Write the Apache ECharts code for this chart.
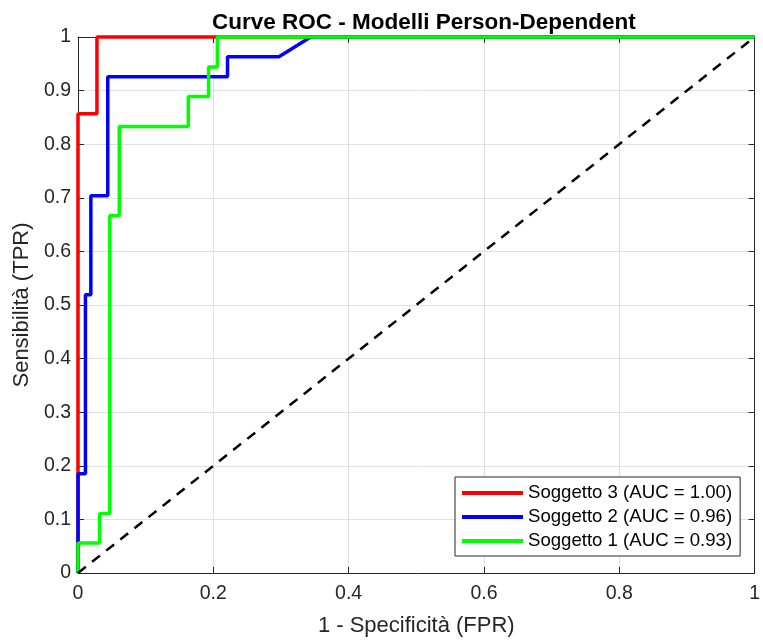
<!DOCTYPE html>
<html><head><meta charset="utf-8">
<script src="https://cdn.jsdelivr.net/npm/echarts@6/dist/echarts.min.js"></script>
<style>html,body{margin:0;padding:0;background:#fff}#c{width:763px;height:644px}</style>
</head><body><div id="c"></div>
<script>
const titleText = 'Curve ROC - Modelli Person-Dependent';
const xLabel = '1 - Specificità (FPR)';
const yLabel = 'Sensibilità (TPR)';
const seriesNames = ['Soggetto 3 (AUC = 1.00)', 'Soggetto 2 (AUC = 0.96)', 'Soggetto 1 (AUC = 0.93)'];
const s3FPR = [0, 0, 0.028, 0.028, 1];
const s3TPR = [0, 0.857, 0.857, 1, 1];
const s2FPR = [0, 0, 0.011, 0.011, 0.019, 0.019, 0.044, 0.044, 0.221, 0.221, 0.297, 0.344, 1];
const s2TPR = [0, 0.185, 0.185, 0.519, 0.519, 0.704, 0.704, 0.926, 0.926, 0.963, 0.963, 1, 1];
const s1FPR = [0, 0, 0.032, 0.032, 0.047, 0.047, 0.061, 0.061, 0.163, 0.163, 0.193, 0.193, 0.206, 0.206, 1];
const s1TPR = [0, 0.056, 0.056, 0.111, 0.111, 0.667, 0.667, 0.833, 0.833, 0.889, 0.889, 0.944, 0.944, 1, 1];
const diagX = [0, 1];
const diagY = [0, 1];

const zip = (a, b) => a.map((v, i) => [v, b[i]]);
const font = '"Liberation Sans", Arial, Helvetica, sans-serif';
const axisCol = '#262626';
const chart = echarts.init(document.getElementById('c'));
const baseAxis = {
  min: 0, max: 1,
  axisLine: {show: true, onZero: false, lineStyle: {color: axisCol, width: 1}},
  axisTick: {show: true, inside: true, length: 6, lineStyle: {color: axisCol}},
  splitLine: {show: true, lineStyle: {color: '#e0e0e0', width: 1}},
  axisLabel: {color: axisCol, fontSize: 19.5, fontFamily: font}
};
chart.setOption({
  animation: false,
  backgroundColor: '#fff',
  title: {text: titleText, left: 207, top: 6,
    textStyle: {fontSize: 22.5, fontWeight: 'bold', color: '#000', fontFamily: font}},
  grid: {left: 78, right: 5, top: 37, bottom: 71, containLabel: false},
  legend: {
    data: seriesNames, orient: 'vertical', left: 455, top: 477,
    icon: 'rect', itemWidth: 61, itemHeight: 4, itemGap: 4,
    backgroundColor: '#fff', borderColor: axisCol, borderWidth: 1,
    padding: [6, 8, 5, 7],
    textStyle: {fontSize: 18.6, lineHeight: 20, color: '#000', fontFamily: font}
  },
  xAxis: [
    Object.assign({}, baseAxis, {type: 'value', interval: 0.2, position: 'bottom',
      name: xLabel, nameLocation: 'middle', nameGap: 42,
      axisLabel: Object.assign({}, baseAxis.axisLabel, {margin: 11}),
      nameTextStyle: {fontSize: 22, color: axisCol, fontFamily: font}}),
    Object.assign({}, baseAxis, {type: 'value', interval: 0.2, position: 'top',
      axisLabel: {show: false}, splitLine: {show: false}})
  ],
  yAxis: [
    Object.assign({}, baseAxis, {type: 'value', interval: 0.1, position: 'left',
      name: yLabel, nameLocation: 'middle', nameGap: 44,
      nameTextStyle: {fontSize: 22, color: axisCol, fontFamily: font},
      axisLabel: Object.assign({}, baseAxis.axisLabel, {margin: 7})}),
    Object.assign({}, baseAxis, {type: 'value', interval: 0.1, position: 'right',
      axisLabel: {show: false}, splitLine: {show: false}})
  ],
  series: [
    {name: seriesNames[0], type: 'line', data: zip(s3FPR, s3TPR), showSymbol: false, symbol: 'none',
      lineStyle: {color: '#ff0000', width: 3.5}, itemStyle: {color: '#ff0000'}, clip: false},
    {name: seriesNames[1], type: 'line', data: zip(s2FPR, s2TPR), showSymbol: false, symbol: 'none',
      lineStyle: {color: '#0000ff', width: 3.5}, itemStyle: {color: '#0000ff'}, clip: false},
    {name: seriesNames[2], type: 'line', data: zip(s1FPR, s1TPR), showSymbol: false, symbol: 'none',
      lineStyle: {color: '#00ff00', width: 3.5}, itemStyle: {color: '#00ff00'}, clip: false},
    {name: 'diag', type: 'line', data: zip(diagX, diagY), showSymbol: false, symbol: 'none',
      lineStyle: {color: '#000', width: 2.5, type: [10, 8]}, clip: false}
  ]
});
</script></body></html>
